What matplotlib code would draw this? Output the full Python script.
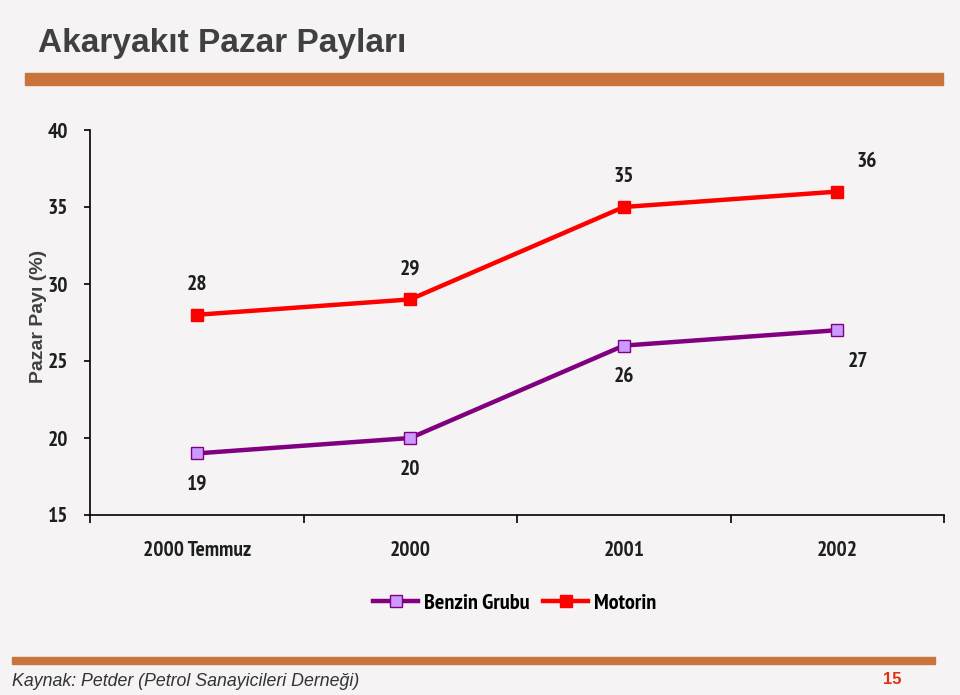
import matplotlib
matplotlib.use("Agg")
import matplotlib.pyplot as plt
from matplotlib import font_manager as fm
from matplotlib.lines import Line2D

categories = ["2000 Temmuz", "2000", "2001", "2002"]
benzin = [19, 20, 26, 27]
motorin = [28, 29, 35, 36]
series_names = ["Benzin Grubu", "Motorin"]
yticks = [15, 20, 25, 30, 35, 40]


def wnum(w):
    if isinstance(w, int):
        return w
    return {"bold": 700, "heavy": 800, "black": 900, "semibold": 600, "demibold": 600,
            "extra bold": 800}.get(str(w).lower(), 400)


bold_names = {f.name for f in fm.fontManager.ttflist if wnum(f.weight) >= 700}
narrow = "Liberation Sans"
for cand in ["Liberation Sans Narrow", "Arial Narrow", "Archivo Narrow", "PT Sans Narrow",
             "Roboto Condensed", "Pragati Narrow", "Encode Sans Condensed", "Open Sans Condensed"]:
    if cand in bold_names:
        narrow = cand
        break
names = {f.name for f in fm.fontManager.ttflist}
sans = "Arial" if "Arial" in names else "Liberation Sans"

BG = "#f5f3f3"
fig = plt.figure(figsize=(9.6, 6.95), dpi=100, facecolor=BG)

# title
fig.text(0.040, 0.938, "Akaryakıt Pazar Payları", fontsize=24, fontweight="bold",
         family=sans, color="#404040", ha="left", va="center")

# decorative bars
fig.patches.append(plt.Rectangle((25/960, 1-85/695), (943-25)/960, 12/695,
                                 transform=fig.transFigure, color="#c8743c", zorder=1))
fig.patches.append(plt.Rectangle((12/960, 1-664/695), (935-12)/960, 7/695,
                                 transform=fig.transFigure, color="#c8743c", zorder=1))

ax = fig.add_axes([90/960, 1-515/695, (944-90)/960, (515-130)/695])
ax.set_facecolor("none")
x = list(range(len(categories)))

ax.plot(x, benzin, color="#800080", lw=3.2, marker="s", ms=9,
        mfc="#cc99ff", mec="#800080", mew=1, zorder=3)
ax.plot(x, motorin, color="#ff0000", lw=3.2, marker="s", ms=9,
        mfc="#ff0000", mec="#ff0000", zorder=3)

FS = 15.5
lblfont = dict(fontsize=FS, fontweight="bold", family=narrow, color="#1e1e1e",
               ha="center", va="center")
for i, v in enumerate(motorin):
    dx = 21 if i == len(motorin) - 1 else 0
    ax.annotate(f"{v}", (i, v), xytext=(dx, 22),
                textcoords="offset points", **lblfont)
for i, v in enumerate(benzin):
    dx = 15 if i == len(benzin) - 1 else 0
    ax.annotate(f"{v}", (i, v), xytext=(dx, -22.5),
                textcoords="offset points", **lblfont)

ax.set_xlim(-0.5, len(categories) - 0.5)
ax.set_ylim(15, 40)
ax.set_yticks(yticks)
ax.set_yticklabels([str(t) for t in yticks], fontsize=FS, fontweight="bold",
                   family=narrow, color="#1e1e1e")
ax.set_xticks([i - 0.5 for i in range(len(categories) + 1)])
ax.set_xticklabels([])
ax.set_xticks(x, minor=True)
ax.set_xticklabels(categories, minor=True, fontsize=FS, fontweight="bold",
                   family=narrow, color="#1e1e1e")
ax.tick_params(axis="x", which="major", length=6, width=1.2, color="black", direction="out")
ax.tick_params(axis="x", which="minor", length=0, pad=19)
ax.tick_params(axis="y", length=4, width=1.2, pad=12)
for s in ["top", "right"]:
    ax.spines[s].set_visible(False)
for s in ["left", "bottom"]:
    ax.spines[s].set_linewidth(1.2)

ax.set_ylabel("Pazar Payı (%)", fontsize=14, fontweight="bold",
              family=sans, color="#404040", labelpad=0, y=0.517)

handles = [
    Line2D([], [], color="#800080", lw=3.2, marker="s", ms=9, mfc="#cc99ff", mec="#800080"),
    Line2D([], [], color="#ff0000", lw=3.2, marker="s", ms=9, mfc="#ff0000", mec="#ff0000"),
]
fig.legend(handles, series_names, loc="center", bbox_to_anchor=(515/960, 1-603/695),
           ncol=2, frameon=False, handlelength=2.0, handletextpad=0.3, columnspacing=0.6,
           prop=dict(family=narrow, weight="bold", size=16))

fig.text(12/960, 1-682/695, "Kaynak: Petder (Petrol Sanayicileri Derneği)", fontsize=12.8,
         style="italic", family=sans, color="#333333", ha="left", va="center")
fig.text(892/960, 1-680/695, "15", fontsize=12, fontweight="bold", family=sans,
         color="#e03010", ha="center", va="center")

fig.savefig("out.png", dpi=100, facecolor=BG)
